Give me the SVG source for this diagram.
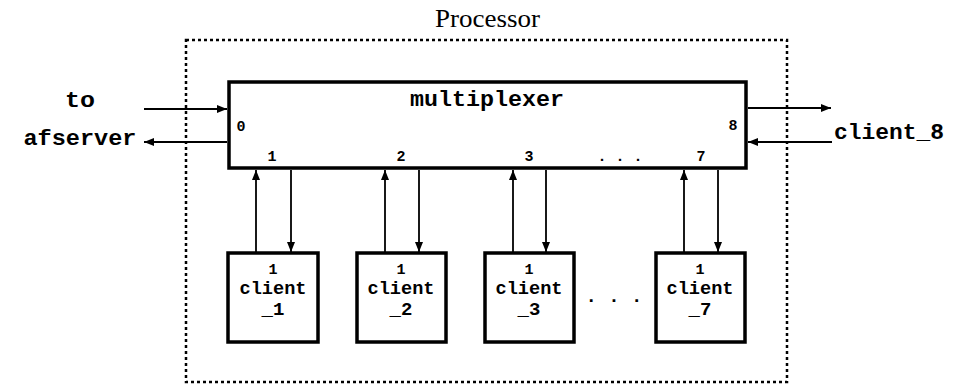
<svg xmlns="http://www.w3.org/2000/svg" width="954" height="385" viewBox="0 0 954 385">
<defs>
<marker id="ah" viewBox="0 0 10 10" refX="10" refY="5" markerWidth="10" markerHeight="10" markerUnits="userSpaceOnUse" orient="auto">
<path d="M0,1 L10,5 L0,9 Z" fill="#000"/>
</marker>
<style>
.box{fill:#fff;stroke:#000;stroke-width:3.5}
.tt{font-family:"Liberation Mono","DejaVu Sans Mono",monospace;font-weight:bold;fill:#000}
.big{font-size:22px}
.mid{font-size:19px}
.sm{font-size:15px}
.ln{stroke:#000;stroke-width:1.8;fill:none}
</style>
</defs>
<rect x="0" y="0" width="954" height="385" fill="#fff"/>
<g id="processor">
<rect x="186" y="40" width="601" height="342" fill="none" stroke="#000" stroke-width="2.5" stroke-dasharray="3 3"/>
<text x="487.5" y="27" text-anchor="middle" font-family="Liberation Serif,serif" font-size="25" textLength="105" lengthAdjust="spacingAndGlyphs">Processor</text>
</g>
<g id="multiplexer">
<rect class="box" x="229" y="82" width="517" height="86"/>
<text class="tt big" x="487" y="106" text-anchor="middle" textLength="154" lengthAdjust="spacingAndGlyphs">multiplexer</text>
<text class="tt sm" x="241" y="131" text-anchor="middle">0</text>
<text class="tt sm" x="733" y="130" text-anchor="middle">8</text>
<text class="tt sm" x="272" y="161" text-anchor="middle">1</text>
<text class="tt sm" x="401" y="161" text-anchor="middle">2</text>
<text class="tt sm" x="529" y="161" text-anchor="middle">3</text>
<text class="tt sm" x="620" y="161" text-anchor="middle" font-weight="normal">. . .</text>
<text class="tt sm" x="701" y="161" text-anchor="middle">7</text>
</g>
<g id="afserver">
<text class="tt big" x="80" y="107" text-anchor="middle" textLength="30" lengthAdjust="spacingAndGlyphs">to</text>
<text class="tt big" x="80" y="145" text-anchor="middle" textLength="113" lengthAdjust="spacingAndGlyphs">afserver</text>
</g>
<g id="client_8">
<text class="tt big" x="889" y="139" text-anchor="middle" textLength="110" lengthAdjust="spacingAndGlyphs">client_8</text>
</g>
<g id="client_1">
<rect class="box" x="228" y="253" width="90" height="89"/>
<text class="tt sm" x="273" y="274" text-anchor="middle">1</text>
<text class="tt mid" x="273" y="294" text-anchor="middle" textLength="67" lengthAdjust="spacingAndGlyphs">client</text>
<text class="tt mid" x="273" y="315" text-anchor="middle">_1</text>
</g>
<g id="client_2">
<rect class="box" x="357" y="253" width="89" height="89"/>
<text class="tt sm" x="401" y="274" text-anchor="middle">1</text>
<text class="tt mid" x="401" y="294" text-anchor="middle" textLength="67" lengthAdjust="spacingAndGlyphs">client</text>
<text class="tt mid" x="401" y="315" text-anchor="middle">_2</text>
</g>
<g id="client_3">
<rect class="box" x="485" y="253" width="89" height="89"/>
<text class="tt sm" x="529" y="274" text-anchor="middle">1</text>
<text class="tt mid" x="529" y="294" text-anchor="middle" textLength="67" lengthAdjust="spacingAndGlyphs">client</text>
<text class="tt mid" x="529" y="315" text-anchor="middle">_3</text>
</g>
<g id="ellipsis">
<text class="tt mid" x="614" y="302" text-anchor="middle">. . .</text>
</g>
<g id="client_7">
<rect class="box" x="656" y="253" width="89" height="89"/>
<text class="tt sm" x="700" y="274" text-anchor="middle">1</text>
<text class="tt mid" x="700" y="294" text-anchor="middle" textLength="67" lengthAdjust="spacingAndGlyphs">client</text>
<text class="tt mid" x="700" y="315" text-anchor="middle">_7</text>
</g>
<g id="connectors">
<line class="ln" x1="144" y1="109" x2="227" y2="109" marker-end="url(#ah)"/>
<line class="ln" x1="227" y1="142" x2="144" y2="142" marker-end="url(#ah)"/>
<line class="ln" x1="748" y1="108" x2="831" y2="108" marker-end="url(#ah)"/>
<line class="ln" x1="832" y1="142" x2="748" y2="142" marker-end="url(#ah)"/>
<line class="ln" x1="256" y1="252" x2="256" y2="170" marker-end="url(#ah)"/>
<line class="ln" x1="291" y1="170" x2="291" y2="252" marker-end="url(#ah)"/>
<line class="ln" x1="385" y1="252" x2="385" y2="170" marker-end="url(#ah)"/>
<line class="ln" x1="419" y1="170" x2="419" y2="252" marker-end="url(#ah)"/>
<line class="ln" x1="513" y1="252" x2="513" y2="170" marker-end="url(#ah)"/>
<line class="ln" x1="546" y1="170" x2="546" y2="252" marker-end="url(#ah)"/>
<line class="ln" x1="684" y1="252" x2="684" y2="170" marker-end="url(#ah)"/>
<line class="ln" x1="718" y1="170" x2="718" y2="252" marker-end="url(#ah)"/>
</g>
</svg>
